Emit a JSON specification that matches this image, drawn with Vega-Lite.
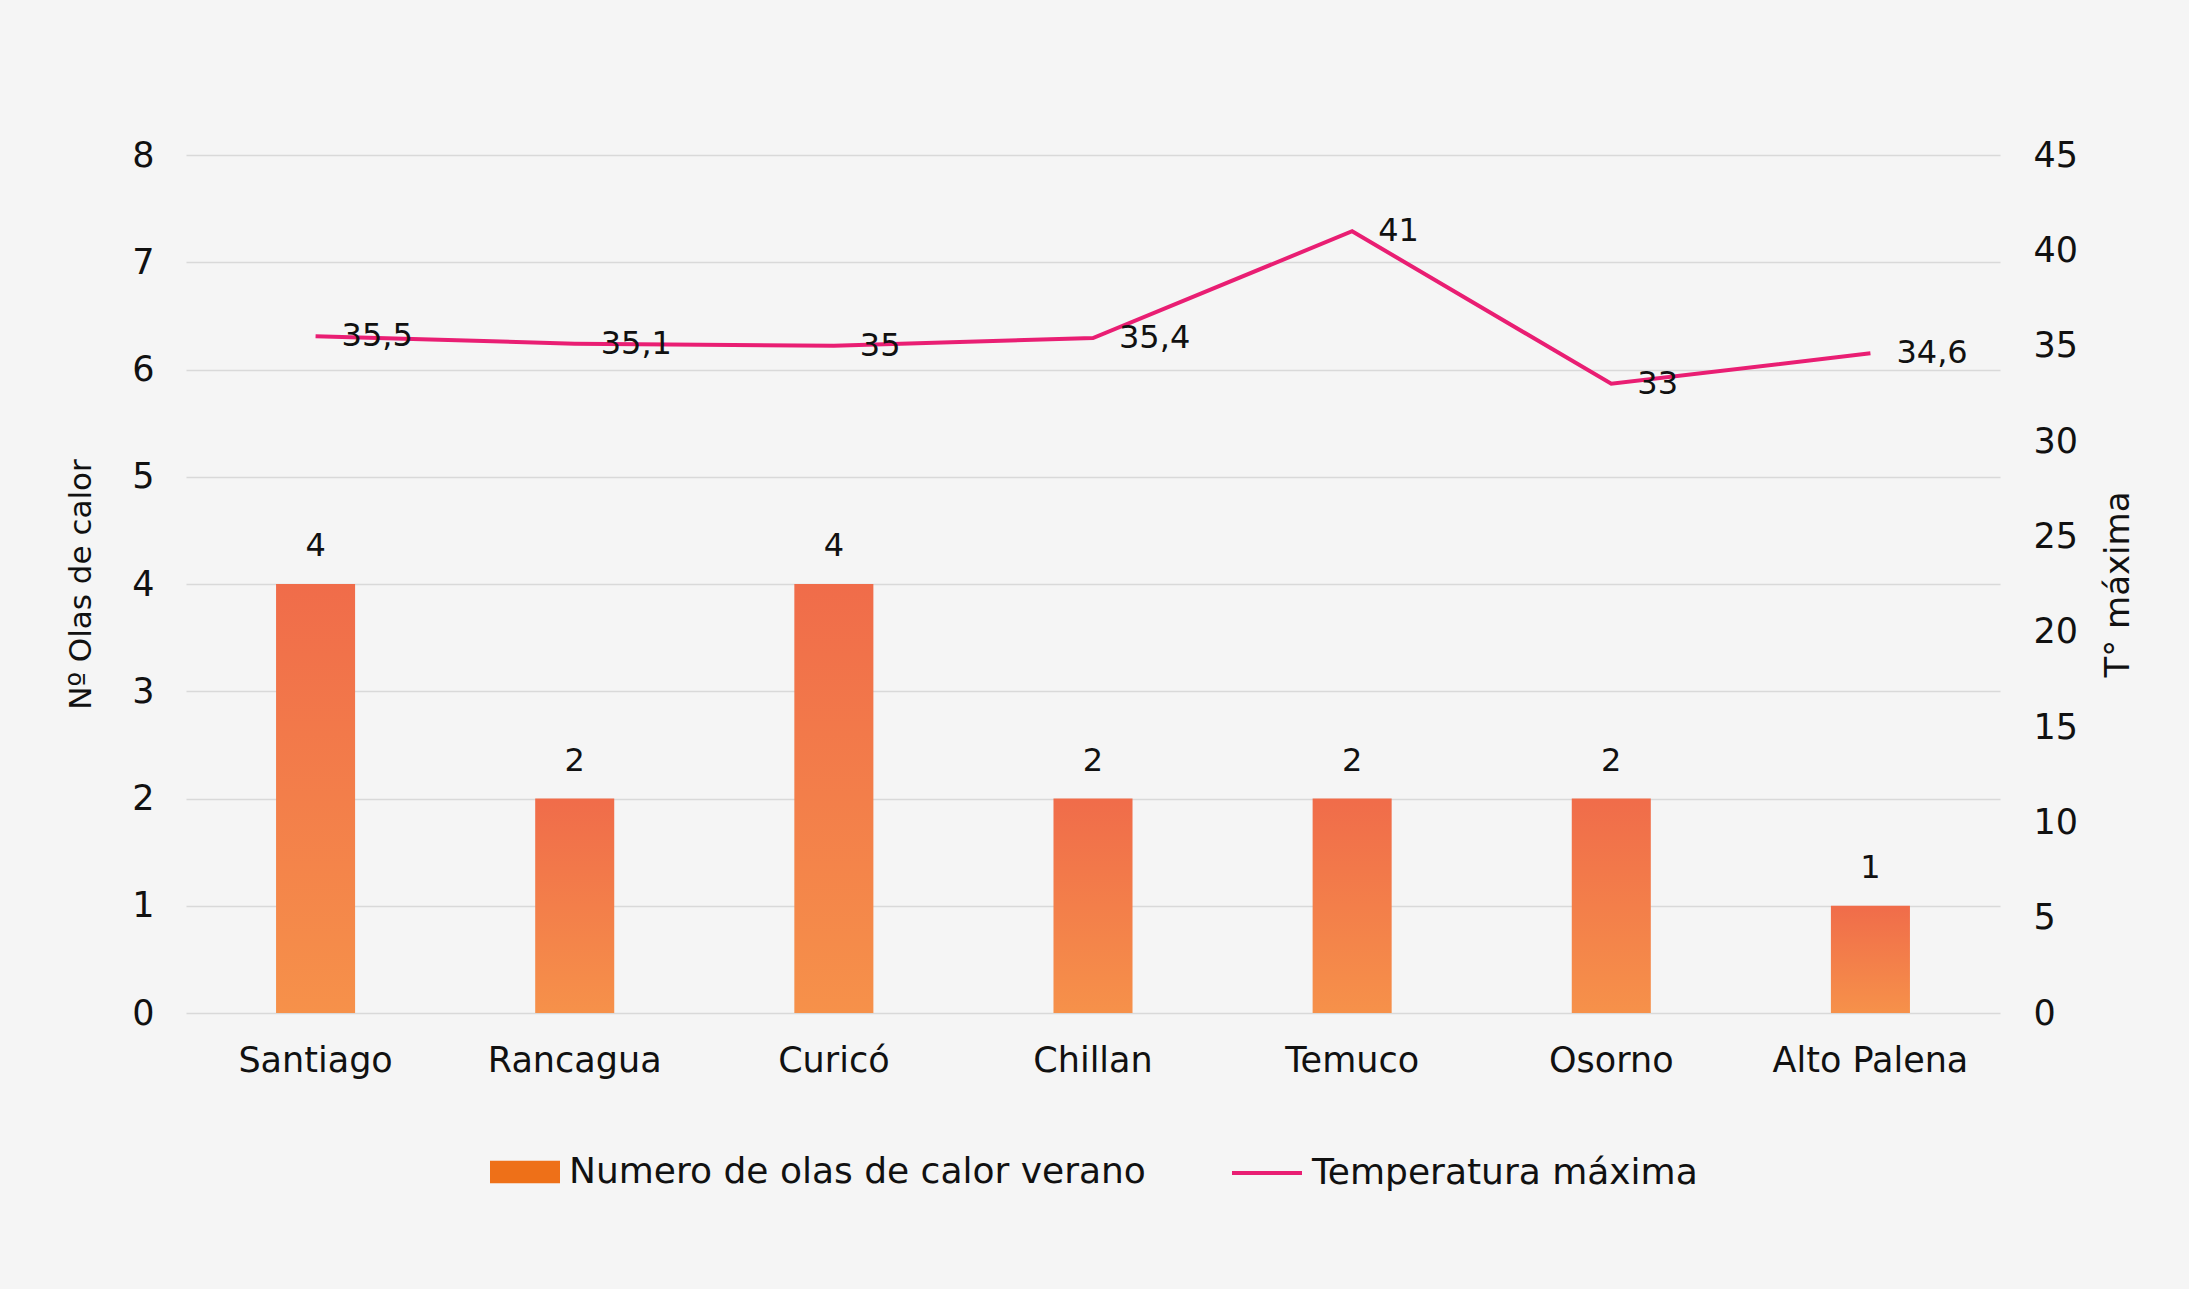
{
  "$schema": "https://vega.github.io/schema/vega-lite/v6.json",
  "autosize": "none",
  "width": 1814,
  "height": 858,
  "padding": {"left": 186, "top": 155, "right": 189, "bottom": 276},
  "background": "#F5F5F5",
  "config": {
    "view": {"stroke": null},
    "font": "DejaVu Sans",
    "locale": {"number": {"decimal": ",", "thousands": ".", "grouping": [3], "currency": ["$", ""]}},
    "axis": {
      "labelFont": "DejaVu Sans",
      "labelFontSize": 35,
      "labelColor": "#111111",
      "titleFont": "DejaVu Sans",
      "titleFontSize": 31,
      "titleFontWeight": "normal",
      "titleColor": "#111111",
      "domain": false,
      "ticks": false,
      "gridColor": "#D9D9D9",
      "gridWidth": 1.5
    },
    "legend": {"layout": {"bottom": {"anchor": "middle", "direction": "horizontal", "margin": 84}}}
  },
  "data": {
    "values": [
      {"ciudad": "Santiago", "olas": 4, "temp": 35.5},
      {"ciudad": "Rancagua", "olas": 2, "temp": 35.1},
      {"ciudad": "Curicó", "olas": 4, "temp": 35},
      {"ciudad": "Chillan", "olas": 2, "temp": 35.4},
      {"ciudad": "Temuco", "olas": 2, "temp": 41},
      {"ciudad": "Osorno", "olas": 2, "temp": 33},
      {"ciudad": "Alto Palena", "olas": 1, "temp": 34.6}
    ]
  },
  "encoding": {
    "x": {
      "field": "ciudad",
      "type": "nominal",
      "sort": null,
      "scale": {"paddingInner": 0.695, "paddingOuter": 0.3475},
      "axis": {"title": null, "labelAngle": 0, "labelPadding": 30, "labelLimit": 0, "grid": false}
    }
  },
  "layer": [
    {
      "layer": [
        {
          "mark": {"type": "bar", "opacity": 0},
          "encoding": {
            "y": {
              "field": "olas",
              "type": "quantitative",
              "scale": {"domain": [0, 8]},
              "axis": {"title": "Nº Olas de calor", "values": [0, 1, 2, 3, 4, 5, 6, 7, 8], "format": "d", "grid": true, "labelPadding": 32, "titlePadding": 34}
            },
            "fill": {
              "datum": "Numero de olas de calor verano",
              "type": "nominal",
              "scale": {"range": ["#EE7018"]},
              "legend": {
                "title": null,
                "orient": "bottom",
                "offset": 58,
                "symbolType": "M-1,-0.32H1V0.32H-1Z",
                "symbolSize": 4900,
                "symbolOpacity": 1,
                "labelFont": "DejaVu Sans",
                "labelFontSize": 36,
                "labelColor": "#111111",
                "labelLimit": 0,
                "labelOffset": 8,
                "encode": {"symbols": {"update": {"opacity": {"value": 1}}}}
              }
            }
          }
        },
        {
          "mark": {"type": "bar", "color": {"gradient": "linear", "x1": 0, "y1": 0, "x2": 0, "y2": 1, "stops": [{"offset": 0, "color": "#F06C4A"}, {"offset": 1, "color": "#F6914A"}]}},
          "encoding": {
            "y": {"field": "olas", "type": "quantitative"}
          }
        },
        {
          "mark": {"type": "text", "baseline": "bottom", "dy": -21, "fontSize": 32, "font": "DejaVu Sans", "color": "#111111"},
          "encoding": {
            "y": {"field": "olas", "type": "quantitative"},
            "text": {"field": "olas", "type": "quantitative"}
          }
        }
      ]
    },
    {
      "layer": [
        {
          "mark": {"type": "line", "strokeWidth": 4},
          "encoding": {
            "y": {
              "field": "temp",
              "type": "quantitative",
              "scale": {"domain": [0, 45]},
              "axis": {"orient": "right", "title": "T° máxima", "titleFontSize": 34, "titleAngle": -90, "titleBaseline": "top", "values": [0, 5, 10, 15, 20, 25, 30, 35, 40, 45], "grid": false, "labelPadding": 33, "titlePadding": 24}
            },
            "stroke": {
              "datum": "Temperatura máxima",
              "type": "nominal",
              "scale": {"range": ["#E91E73"]},
              "legend": {
                "title": null,
                "orient": "bottom",
                "offset": 58,
                "symbolType": "stroke",
                "symbolSize": 4900,
                "symbolStrokeWidth": 4,
                "labelFont": "DejaVu Sans",
                "labelFontSize": 36,
                "labelColor": "#111111",
                "labelLimit": 0,
                "labelOffset": 8
              }
            }
          }
        },
        {
          "mark": {"type": "text", "align": "left", "baseline": "middle", "dx": 26, "fontSize": 32, "font": "DejaVu Sans", "color": "#111111"},
          "encoding": {
            "y": {"field": "temp", "type": "quantitative"},
            "text": {"field": "temp", "type": "quantitative", "format": ".1~f"}
          }
        }
      ]
    }
  ],
  "resolve": {"scale": {"y": "independent", "fill": "independent", "stroke": "independent"}, "legend": {"fill": "independent", "stroke": "independent"}}
}
